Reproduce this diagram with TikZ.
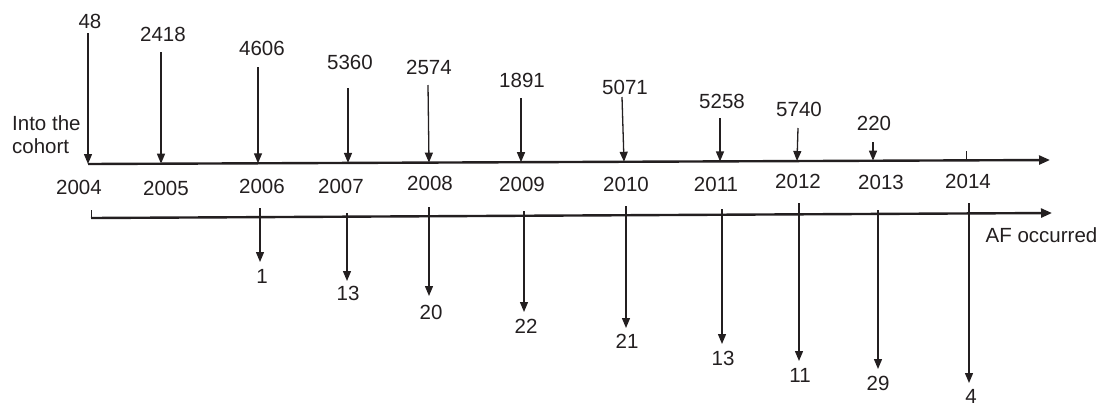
\documentclass[tikz,border=0pt]{standalone}
\usepackage{fontspec}
\setmainfont{Liberation Sans}
\usetikzlibrary{arrows.meta}
\definecolor{ink}{HTML}{231F20}
\begin{document}
\begin{tikzpicture}[x=1pt,y=-1pt,
  lbl/.style={inner sep=0pt,text=ink,font=\fontsize{20.5}{23}\selectfont},
  axisline/.style={draw=ink,line width=2.4pt,-{Triangle[width=9pt,length=11pt]}},
  arr/.style={draw=ink,line width=1.3pt,-{Triangle[width=8pt,length=10pt]}},
  tickline/.style={draw=ink,line width=0.8pt}]
\useasboundingbox (0,0) rectangle (1102,408);
% top axis
\coordinate (ta0) at (88,164);
\coordinate (ta1) at (1050,160);
\draw[axisline] (ta0) -- (ta1);
\node[lbl,anchor=west,align=left] (into) at (12,134.5) {Into the\\cohort};
% top arrows: name/x start/y start/x end/y end/label x/label y/text
\foreach \n/\xs/\ys/\xe/\ye/\lx/\ly/\t in {
  a/88/33/88/164/90/21/48,
  b/161/52/161/163.7/163/34/2418,
  c/258/67/258/163.3/262/48/4606,
  d/348/88/348/162.9/350/62/5360,
  e/428/85/429/162.6/429/67/2574,
  f/521/98/521/162.2/522/80/1891,
  g/622/97/624/161.8/625/87.5/5071,
  h/720/118/720/161.4/722/101/5258,
  i/798/128/797/161/799/109.5/5740,
  j/873/142/873/160.7/874/123/220}{
  \node[lbl] (in\n) at (\lx,\ly) {\t};
  \coordinate (ts\n) at (\xs,\ys);
  \coordinate (te\n) at (\xe,\ye);
  \draw[arr] (ts\n) -- (te\n);
}
\coordinate (tk0) at (966,151);
\coordinate (tk1) at (966,160.4);
\draw[tickline] (tk0) -- (tk1);
% years
\foreach \n/\x/\y in {2004/79/187.5,2005/166/188,2006/262/186,2007/341/186,
  2008/430/183,2009/522/184,2010/626/184,2011/716/184,2012/798/181,
  2013/881/182,2014/968/181}{
  \node[lbl] (y\n) at (\x,\y) {\n};
}
% bottom axis
\coordinate (ba0) at (91,218);
\coordinate (ba1) at (1052,213);
\coordinate (bt0) at (91,210);
\draw[axisline] (ba0) -- (ba1);
\draw[ink,line width=1pt] (bt0) -- (ba0);
\node[lbl] (af) at (1041.5,235) {AF occurred};
% bottom arrows: name/x/y start/y tip/label x/label y/text
\foreach \n/\x/\ys/\ye/\lx/\ly/\t in {
  p/260/208/262/262/276/1,
  q/347/213/281/348/293/13,
  r/429/207/296/431/312/20,
  s/524/211/312/526/326/22,
  t/626/206/328/627/341/21,
  u/722/209/344/723/358/13,
  v/799/203/361/800/375/11,
  w/878/210/369/878/383/29,
  x/969/203/383/971/396/4}{
  \node[lbl] (out\n) at (\lx,\ly) {\t};
  \coordinate (bs\n) at (\x,\ys);
  \coordinate (be\n) at (\x,\ye);
  \draw[arr] (bs\n) -- (be\n);
}
\end{tikzpicture}
\end{document}
